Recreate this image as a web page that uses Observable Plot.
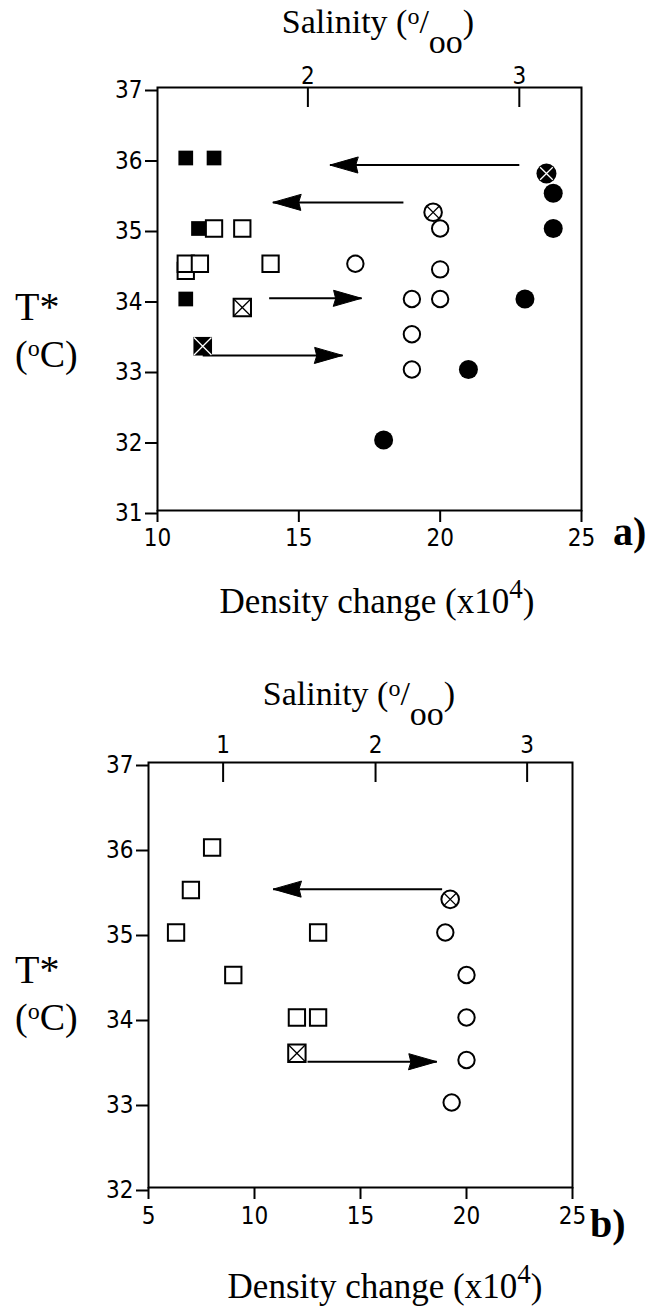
<!DOCTYPE html>
<html><head><meta charset="utf-8">
<script src="https://cdn.jsdelivr.net/npm/d3@7"></script>
<script src="https://cdn.jsdelivr.net/npm/@observablehq/plot@0.6"></script>
<style>
body{margin:0;background:#fff}
#wrap{position:relative;width:669px;height:1308px;background:#fff;overflow:hidden}
#wrap svg{position:absolute;left:0}
</style></head><body><div id="wrap"></div>
<script>
// ---------- Panel a) data ----------
const aXTicks = [10, 15, 20, 25];
const aYTicks = [31, 32, 33, 34, 35, 36, 37];
const aSalinityTicks = [2, 3];
const aSalinityAtDensity = [15.32, 22.8]; // density position of each salinity tick
const aFilledSquares = [{x:11,y:36},{x:12,y:36},{x:11.45,y:35},{x:11,y:34}];
const aOpenSquares = [{x:11,y:34.4},{x:12,y:35},{x:13,y:35},{x:11,y:34.5},{x:11.5,y:34.5},{x:14,y:34.5}];
const aCrossedOpenSquares = [{x:13,y:33.88}];
const aCrossedFilledSquares = [{x:11.6,y:33.33}];
const aCrossedOpenCircles = [{x:19.75,y:35.23}];
const aCrossedFilledCircles = [{x:23.76,y:35.78}];
const aOpenCircles = [{x:17,y:34.5},{x:20,y:35},{x:20,y:34.42},{x:19,y:34},{x:20,y:34},{x:19,y:33.5},{x:19,y:33}];
const aFilledCircles = [{x:24,y:35.5},{x:24,y:35},{x:23,y:34},{x:21,y:33},{x:18,y:32}];
const aArrows = [{x1:22.8,x2:16.1,y:35.9},{x1:18.7,x2:14.08,y:35.37},{x1:13.95,x2:17.22,y:34.01},{x1:11.6,x2:16.55,y:33.2}];

// ---------- Panel b) data ----------
const bXTicks = [5, 10, 15, 20, 25];
const bYTicks = [32, 33, 34, 35, 36, 37];
const bSalinityTicks = [1, 2, 3];
const bSalinityAtDensity = [8.52, 15.71, 22.86];
const bFilledSquares = [];
const bOpenSquares = [{x:8,y:36},{x:7,y:35.5},{x:6.3,y:35},{x:13,y:35},{x:9,y:34.5},{x:12,y:34},{x:13,y:34}];
const bCrossedOpenSquares = [{x:12,y:33.58}];
const bCrossedFilledSquares = [];
const bCrossedOpenCircles = [{x:19.23,y:35.39}];
const bCrossedFilledCircles = [];
const bOpenCircles = [{x:19,y:35},{x:20,y:34.5},{x:20,y:34},{x:20,y:33.5},{x:19.3,y:33}];
const bFilledCircles = [];
const bArrows = [{x1:18.85,x2:10.88,y:35.51},{x1:12.5,x2:18.6,y:33.48}];

const serif = "'Liberation Serif','Times New Roman',serif";
const tickFont = "'Liberation Sans Narrow','DejaVu Sans Condensed','Liberation Sans',sans-serif";

const arrowHead = {
  draw(context, l) {
    context.moveTo(0, 0);
    context.lineTo(-8, 2);
    context.lineTo(0, -l);
    context.lineTo(8, 2);
    context.closePath();
  }
};

function panel(o) {
  const innerH = o.height - o.marginTop - o.marginBottom;
  const marks = [
    Plot.frame({stroke: "black", strokeWidth: 2}),
    Plot.ruleX(o.salPos, {x: d => d, insetBottom: innerH - 20, stroke: "black", strokeWidth: 2}),
    Plot.axisY({ticks: o.yTicks, tickSize: 12, tickPadding: 3, fontSize: 24, label: null, strokeWidth: 2, tickFormat: d => d, dy: 3}),
    Plot.axisX({anchor: "bottom", ticks: o.xTicks, tickSize: o.bTick, tickPadding: o.bPad, fontSize: 24, label: null, strokeWidth: 2, tickFormat: d => d}),
    Plot.axisX({anchor: "top", ticks: o.salPos, tickSize: 0, tickPadding: o.tPad, fontSize: 24, label: null,
      tickFormat: d => o.salTicks[o.salPos.indexOf(d)]}),
    Plot.link(o.arrows, {x1: "x1", x2: "x2", y1: "y", y2: "y", stroke: "black", strokeWidth: 2}),
    Plot.vector(o.arrows, {x: "x2", y: "y", rotate: d => d.x2 > d.x1 ? 90 : -90, length: 26, anchor: "end",
      shape: arrowHead, fill: "black", stroke: "black", strokeWidth: 1}),
    Plot.dot(o.openSquares, {x: "x", y: "y", symbol: "square", r: 9.2, fill: "white", stroke: "black", strokeWidth: 2}),
    Plot.dot(o.filledSquares, {x: "x", y: "y", symbol: "square", r: 8.3, fill: "black", stroke: "none"}),
    Plot.dot(o.crossedOpenSquares, {x: "x", y: "y", symbol: "square", r: 9.8, fill: "white", stroke: "black", strokeWidth: 2}),
    Plot.dot(o.crossedOpenSquares, {x: "x", y: "y", symbol: "times", r: 7.8, stroke: "black", strokeWidth: 1.3}),
    Plot.dot(o.crossedFilledSquares, {x: "x", y: "y", symbol: "square", r: 10.5, fill: "black", stroke: "none"}),
    Plot.dot(o.crossedFilledSquares, {x: "x", y: "y", symbol: "times", r: 8, stroke: "white", strokeWidth: 1.3}),
    Plot.dot(o.crossedOpenCircles, {x: "x", y: "y", r: 8.8, fill: "white", stroke: "black", strokeWidth: 2}),
    Plot.dot(o.crossedOpenCircles, {x: "x", y: "y", symbol: "times", r: 5.8, stroke: "black", strokeWidth: 1.3}),
    Plot.dot(o.crossedFilledCircles, {x: "x", y: "y", r: 10, fill: "black", stroke: "none"}),
    Plot.dot(o.crossedFilledCircles, {x: "x", y: "y", symbol: "times", r: 5.8, stroke: "white", strokeWidth: 1.3}),
    Plot.dot(o.openCircles, {x: "x", y: "y", r: 8.2, fill: "white", stroke: "black", strokeWidth: 2}),
    Plot.dot(o.filledCircles, {x: "x", y: "y", r: 9.5, fill: "black", stroke: "none"})
  ];
  const svg = Plot.plot({
    width: 669, height: o.height,
    marginTop: o.marginTop, marginBottom: o.marginBottom, marginLeft: o.marginLeft, marginRight: o.marginRight,
    x: {domain: o.xDomain, axis: null},
    y: {domain: o.yDomain, axis: null},
    style: {fontFamily: tickFont, color: "black", background: "white", overflow: "visible"},
    marks
  });
  svg.style.top = o.top + "px";
  return svg;
}

function addText(svg, {x, y, anchor = "start", size, weight = "normal", parts}) {
  const t = d3.select(svg).append("text")
    .attr("x", x).attr("y", y).attr("text-anchor", anchor)
    .attr("font-family", serif).attr("font-size", size).attr("font-weight", weight).attr("fill", "black");
  for (const p of parts) {
    const s = t.append("tspan").text(p.t);
    if (p.size) s.attr("font-size", p.size);
    if (p.dy) s.attr("dy", p.dy);
  }
}

const wrap = document.getElementById("wrap");

const svgA = panel({
  top: 0, height: 654, marginTop: 87, marginBottom: 144, marginLeft: 157, marginRight: 88,
  xDomain: [10, 25], yDomain: [31, 37], xTicks: aXTicks, yTicks: aYTicks,
  salTicks: aSalinityTicks, salPos: aSalinityAtDensity, bTick: 12, bPad: 6, tPad: 4,
  openSquares: aOpenSquares, filledSquares: aFilledSquares, crossedOpenSquares: aCrossedOpenSquares,
  crossedFilledSquares: aCrossedFilledSquares, crossedOpenCircles: aCrossedOpenCircles,
  crossedFilledCircles: aCrossedFilledCircles, openCircles: aOpenCircles, filledCircles: aFilledCircles,
  arrows: aArrows
});
wrap.appendChild(svgA);
addText(svgA, {x: 378, y: 33, anchor: "middle", size: 34, parts: [
  {t: "Salinity ("}, {t: "o", size: 24, dy: -9}, {t: "/", size: 34, dy: 9}, {t: "oo", size: 34, dy: 20}, {t: ")", dy: -20}]});
addText(svgA, {x: 15, y: 320, size: 40, parts: [{t: "T*"}]});
addText(svgA, {x: 15, y: 367, size: 38, parts: [{t: "("}, {t: "o", size: 24, dy: -11}, {t: "C)", size: 38, dy: 11}]});
addText(svgA, {x: 377, y: 613, anchor: "middle", size: 35, parts: [
  {t: "Density change (x10"}, {t: "4", size: 27, dy: -15}, {t: ")", size: 35, dy: 15}]});
addText(svgA, {x: 613, y: 545, size: 40, weight: "bold", parts: [{t: "a)"}]});

const svgB = panel({
  top: 654, height: 654, marginTop: 108, marginBottom: 121, marginLeft: 148, marginRight: 97,
  xDomain: [5, 25], yDomain: [32, 37], xTicks: bXTicks, yTicks: bYTicks,
  salTicks: bSalinityTicks, salPos: bSalinityAtDensity, bTick: 12, bPad: 7, tPad: 10,
  openSquares: bOpenSquares, filledSquares: bFilledSquares, crossedOpenSquares: bCrossedOpenSquares,
  crossedFilledSquares: bCrossedFilledSquares, crossedOpenCircles: bCrossedOpenCircles,
  crossedFilledCircles: bCrossedFilledCircles, openCircles: bOpenCircles, filledCircles: bFilledCircles,
  arrows: bArrows
});
wrap.appendChild(svgB);
addText(svgB, {x: 359, y: 51, anchor: "middle", size: 34, parts: [
  {t: "Salinity ("}, {t: "o", size: 24, dy: -9}, {t: "/", size: 34, dy: 9}, {t: "oo", size: 34, dy: 20}, {t: ")", dy: -20}]});
addText(svgB, {x: 15, y: 329, size: 40, parts: [{t: "T*"}]});
addText(svgB, {x: 15, y: 376, size: 38, parts: [{t: "("}, {t: "o", size: 24, dy: -11}, {t: "C)", size: 38, dy: 11}]});
addText(svgB, {x: 385, y: 644, anchor: "middle", size: 35, parts: [
  {t: "Density change (x10"}, {t: "4", size: 27, dy: -15}, {t: ")", size: 35, dy: 15}]});
addText(svgB, {x: 590, y: 583, size: 40, weight: "bold", parts: [{t: "b)"}]});
</script></body></html>
